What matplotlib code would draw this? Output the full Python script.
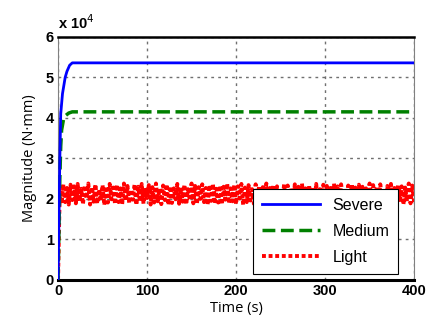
import numpy as np
import matplotlib.pyplot as plt
from matplotlib.ticker import FuncFormatter

# data (N*mm)
t_severe = [0, 1, 2, 3, 5, 8, 10, 13, 16, 400]
severe = [0, 1.5e4, 3.0e4, 4.1e4, 4.6e4, 5.0e4, 5.15e4, 5.3e4, 5.36e4, 5.36e4]

t_medium = [0, 1, 2, 3, 4, 6, 8, 12, 16, 400]
medium = [0, 1.2e4, 2.5e4, 3.3e4, 3.7e4, 3.95e4, 4.05e4, 4.12e4, 4.15e4, 4.15e4]

# light load oscillates quickly inside a band (values in 1e4 N*mm, every 2 s)
t_light = np.arange(0, 401, 2)
light = np.array([
    0.00, 2.30, 1.88, 2.36, 1.92, 2.27, 1.86, 2.35, 1.97, 2.31,
    1.89, 2.37, 1.94, 2.25, 1.87, 2.33, 2.01, 2.38, 1.86, 2.29,
    1.93, 2.36, 1.88, 2.24, 1.96, 2.34, 1.85, 2.31, 1.91, 2.37,
    1.99, 2.28, 1.87, 2.35, 1.92, 2.26, 1.86, 2.38, 1.95, 2.32,
    1.89, 2.23, 1.98, 2.36, 1.85, 2.30, 1.93, 2.37, 1.88, 2.27,
    2.02, 2.34, 1.86, 2.29, 1.91, 2.38, 1.94, 2.25, 1.87, 2.33,
    1.97, 2.36, 1.85, 2.31, 1.90, 2.26, 1.99, 2.37, 1.88, 2.28,
    1.93, 2.35, 1.86, 2.24, 1.96, 2.38, 1.89, 2.32, 1.87, 2.29,
    2.00, 2.36, 1.92, 2.27, 1.85, 2.34, 1.95, 2.37, 1.88, 2.25,
    1.91, 2.33, 1.86, 2.30, 1.98, 2.38, 1.89, 2.26, 1.94, 2.35,
    1.87, 2.31, 2.01, 2.37, 1.85, 2.28, 1.92, 2.34, 1.96, 2.24,
    1.88, 2.36, 1.90, 2.32, 1.86, 2.29, 1.99, 2.38, 1.93, 2.27,
    1.87, 2.35, 1.95, 2.31, 1.85, 2.25, 1.91, 2.37, 1.89, 2.33,
    2.02, 2.28, 1.86, 2.36, 1.94, 2.30, 1.88, 2.38, 1.97, 2.26,
    1.85, 2.34, 1.92, 2.29, 1.90, 2.37, 1.87, 2.24, 1.99, 2.35,
    1.93, 2.32, 1.86, 2.27, 1.96, 2.38, 1.89, 2.31, 1.88, 2.36,
    2.00, 2.25, 1.85, 2.33, 1.91, 2.37, 1.94, 2.28, 1.87, 2.35,
    1.98, 2.30, 1.86, 2.26, 1.92, 2.38, 1.89, 2.34, 1.95, 2.29,
    1.88, 2.36, 2.01, 2.24, 1.85, 2.32, 1.93, 2.37, 1.90, 2.27,
    1.87, 2.35, 1.97, 2.31, 1.86, 2.28, 1.94, 2.38, 1.89, 2.33,
    1.92]) * 1e4

fig = plt.figure(figsize=(4.3, 3.3), dpi=100)
ax = fig.add_axes([0.135, 0.152, 0.828, 0.736])

ax.plot(t_light, light, color='red', ls=(0, (1, 0.7)), lw=2.8, label='Light', zorder=2)
ax.plot(t_medium, medium, color='#008000', ls='--', lw=2.5, label='Medium', zorder=3)
ax.plot(t_severe, severe, color='blue', ls='-', lw=2.0, label='Severe', zorder=4)

ax.set_xlim(0, 400)
ax.set_ylim(0, 6e4)
ax.set_xticks([0, 100, 200, 300, 400])
ax.set_yticks(np.arange(0, 6.1e4, 1e4))
ax.yaxis.set_major_formatter(FuncFormatter(lambda v, p: '%d' % round(v / 1e4)))
ax.grid(True, color='#707070', ls=(0, (2, 3)), lw=1.0)
ax.tick_params(length=0, pad=3, labelsize=10.5)
for lab in ax.get_xticklabels() + ax.get_yticklabels():
    lab.set_fontweight('bold')
    lab.set_family('Liberation Sans')

ax.spines['bottom'].set_linewidth(2.2)
ax.spines['top'].set_linestyle((0, (1, 1)))
ax.spines['top'].set_linewidth(1.8)
ax.spines['left'].set_color('#808080')
ax.spines['right'].set_color('#808080')

ax.text(0.0, 1.02, 'x 10$^4$', transform=ax.transAxes, fontsize=10.5,
        fontweight='bold', family='Liberation Sans', va='bottom')

ax.set_xlabel('Time (s)', family='Open Sans', fontsize=10.5, labelpad=2)
ax.set_ylabel('Magnitude (N·mm)', family='Open Sans', fontsize=10.5, labelpad=6)

h, l = ax.get_legend_handles_labels()
leg = ax.legend(h[::-1], l[::-1], loc='lower right', bbox_to_anchor=(0.955, 0.025),
                borderaxespad=0,
                prop={'family': 'Liberation Sans', 'size': 11.5}, fancybox=False,
                edgecolor='black', framealpha=1, handlelength=3.6,
                labelspacing=0.7, borderpad=0.55, handletextpad=0.8)
leg.get_frame().set_linewidth(0.8)

fig.savefig('out.png', dpi=100)
